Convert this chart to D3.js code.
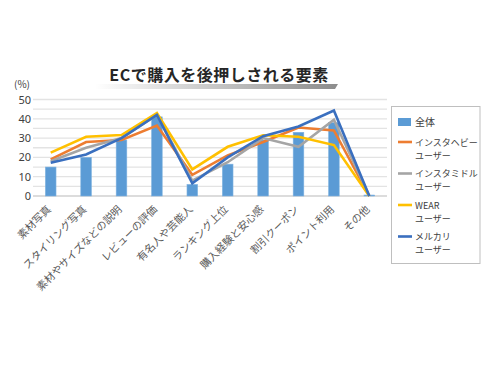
<!DOCTYPE html>
<html>
<head>
<meta charset="utf-8">
<script src="https://cdn.jsdelivr.net/npm/d3@7"></script>
<style>
  body { margin: 0; background: #fff; }
  svg { font-family: "Noto Sans CJK JP", "Noto Sans", sans-serif; }
</style>
</head>
<body>
<div id="chart"></div>
<script>
// categories and series
var categories = ['素材写真', 'スタイリング写真', '素材やサイズなどの説明', 'レビューの評価', '有名人や芸能人',
  'ランキング上位', '購入経験と安心感', '割引クーポン', 'ポイント利用', 'その他'];
var allUsers = [15, 20, 29, 41, 6, 16.5, 29, 33, 38, 0.5];
var heavyInsta = [19, 28, 29, 36.5, 11, 21, 28, 35.5, 34, 0];
var middleInsta = [18, 25, 30, 42, 8, 17.5, 30, 25.5, 39.5, 0];
var wearUsers = [22.5, 30.7, 31.6, 43, 13.8, 25.5, 31.5, 30.7, 26.4, 0];
var mercariUsers = [17.2, 21.5, 30, 42, 6.6, 20, 31, 36, 44.3, 0];
var yTicks = [0, 10, 20, 30, 40, 50];

var lineSeries = [
  {name: ['インスタヘビー', 'ユーザー'], values: heavyInsta, color: '#ed7d31'},
  {name: ['インスタミドル', 'ユーザー'], values: middleInsta, color: '#a5a5a5'},
  {name: ['WEAR', 'ユーザー'], values: wearUsers, color: '#ffc000'},
  {name: ['メルカリ', 'ユーザー'], values: mercariUsers, color: '#3a6fbf'}
];

var width = 500, height = 375;
var svg = d3.select('#chart').append('svg')
    .attr('width', width)
    .attr('height', height);

var x = d3.scaleBand().domain(categories).range([33, 387]);
var y = d3.scaleLinear().domain([0, 50]).range([196, 99.5]);

// title with the grey swoosh under it
var grad = svg.append('defs').append('linearGradient')
    .attr('id', 'swoosh').attr('x1', '0%').attr('x2', '100%');
grad.append('stop').attr('offset', '0%').attr('stop-color', '#ffffff');
grad.append('stop').attr('offset', '100%').attr('stop-color', '#8c8c8c');
svg.append('path')
    .attr('d', 'M95,84 L338,84 L335,89 L95,89 Z')
    .attr('fill', 'url(#swoosh)');
svg.append('text')
    .attr('x', 219).attr('y', 81)
    .attr('text-anchor', 'middle')
    .style('font-size', '16px')
    .style('font-weight', 'bold')
    .style('letter-spacing', '0.5px')
    .attr('fill', '#262626')
    .text('ECで購入を後押しされる要素');

// grid every 5
svg.append('g').selectAll('line')
    .data(d3.range(5, 55, 5)).enter()
    .append('line')
    .attr('x1', 33).attr('x2', 387)
    .attr('y1', function(d) { return y(d); })
    .attr('y2', function(d) { return y(d); })
    .attr('stroke', '#e3e3e3')
    .attr('stroke-width', 1.3);

svg.append('line')
    .attr('x1', 33).attr('x2', 387)
    .attr('y1', y(0)).attr('y2', y(0))
    .attr('stroke', '#d0d0d0').attr('stroke-width', 1.3);

// y labels
var yAxis = svg.append('g')
    .attr('transform', 'translate(31,0)')
    .call(d3.axisLeft(y).tickValues(yTicks).tickSize(0).tickPadding(0));
yAxis.select('.domain').remove();
yAxis.selectAll('text')
    .style('font-size', '11px')
    .style('font-family', '"Noto Sans", sans-serif')
    .attr('fill', '#404040');

svg.append('text')
    .attr('x', 14).attr('y', 88)
    .style('font-size', '10px')
    .attr('fill', '#404040')
    .text('(%)');

// bars
svg.append('g').selectAll('rect')
    .data(allUsers).enter()
    .append('rect')
    .attr('x', function(d, i) { return x(categories[i]) + x.bandwidth() * 0.35; })
    .attr('width', x.bandwidth() * 0.3)
    .attr('y', function(d) { return y(d); })
    .attr('height', function(d) { return y(0) - y(d); })
    .attr('fill', '#5b9bd5')
    .attr('stroke', '#7fb2e0')
    .attr('stroke-width', 0.6);

// lines
var line = d3.line()
    .x(function(d, i) { return x(categories[i]) + x.bandwidth() / 2; })
    .y(function(d) { return y(d); });

svg.append('g').selectAll('path')
    .data(lineSeries).enter()
    .append('path')
    .attr('d', function(d) { return line(d.values); })
    .attr('fill', 'none')
    .attr('stroke', function(d) { return d.color; })
    .attr('stroke-width', 2.6)
    .attr('stroke-linejoin', 'miter');

// category labels, rotated
svg.append('g').selectAll('text')
    .data(categories).enter()
    .append('text')
    .attr('transform', function(d) {
        return 'translate(' + (x(d) + x.bandwidth() / 2 + 1) + ',210) rotate(-45)';
    })
    .attr('text-anchor', 'end')
    .style('font-size', '10.5px')
    .attr('fill', '#595959')
    .text(function(d) { return d; });

// legend
var legend = svg.append('g');
legend.append('rect')
    .attr('x', 391.5).attr('y', 106.5)
    .attr('width', 88.5).attr('height', 157)
    .attr('fill', '#fff')
    .attr('stroke', '#bfbfbf')
    .attr('stroke-width', 1);

legend.append('rect')
    .attr('x', 398).attr('y', 118)
    .attr('width', 13).attr('height', 8)
    .attr('fill', '#5b9bd5');
legend.append('text')
    .attr('x', 415).attr('y', 126)
    .style('font-size', '10px')
    .attr('fill', '#404040')
    .text('全体');

var legendItems = legend.selectAll('.legend-item')
    .data(lineSeries).enter()
    .append('g')
    .attr('class', 'legend-item')
    .attr('transform', function(d, i) { return 'translate(0,' + (142 + i * 31.5) + ')'; });

legendItems.append('line')
    .attr('x1', 398).attr('x2', 412)
    .attr('y1', 0).attr('y2', 0)
    .attr('stroke', function(d) { return d.color; })
    .attr('stroke-width', 2.6);

// two separate lines of text per entry
legendItems.selectAll('text')
    .data(function(d) { return d.name; }).enter()
    .append('text')
    .attr('x', 415)
    .attr('y', function(d, k) { return 3.5 + k * 13.4; })
    .style('font-size', '9px')
    .attr('fill', '#404040')
    .text(function(d) { return d; });
</script>
</body>
</html>
